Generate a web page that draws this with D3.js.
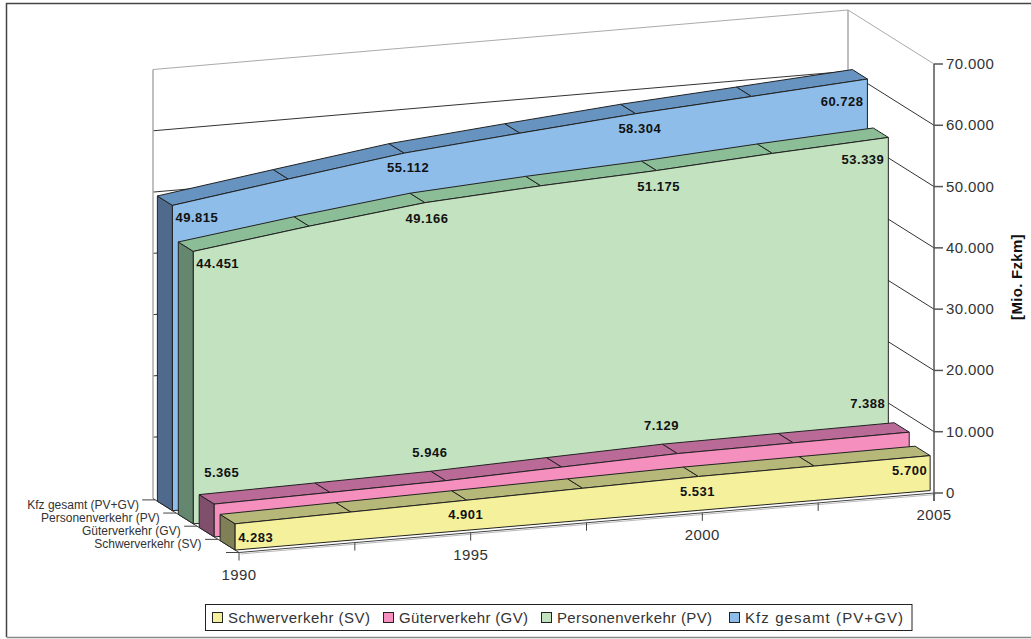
<!DOCTYPE html>
<html>
<head>
    <meta charset="utf-8">
    <script src="https://d3js.org/d3.v7.min.js"></script>
    <style>
        body { margin: 0; background: white; }
        text { font-family: "Liberation Sans", Arial, sans-serif; }
        .value-label { font-size: 13px; font-weight: bold; fill: #111; letter-spacing: .5px; }
        .axis-label { font-size: 15px; fill: #333; letter-spacing: .4px; }
        .cat-label { font-size: 12px; fill: #333; }
        .legend-label { font-size: 15px; fill: #333; }
    </style>
</head>
<body>
    <script>
        const categories = ['1990', '', '1995', '', '2000', '', '2005'];
        const series = ['Schwerverkehr (SV)', 'Güterverkehr (GV)', 'Personenverkehr (PV)', 'Kfz gesamt (PV+GV)'];
        const schwerverkehr = [4283, 4590, 4901, 5230, 5531, 5615, 5700];
        const gueterverkehr = [5365, 5650, 5946, 6550, 7129, 7260, 7388];
        const personenverkehr = [44451, 46950, 49166, 50300, 51175, 52350, 53339];
        const kfzGesamt = [49815, 52500, 55112, 56750, 58304, 59500, 60728];
        const valueTicks = [0, 10000, 20000, 30000, 40000, 50000, 60000, 70000];
        const frontColors = ['#f5f09b', '#f48fbe', '#c3e2bf', '#8dbde8'];
        const topColors = ['#b5b878', '#b96a96', '#8bbd96', '#6693c0'];
        const sideColors = ['#7f8055', '#7f4f6c', '#658770', '#4f6a8c'];
        const seriesValues = [schwerverkehr, gueterverkehr, personenverkehr, kfzGesamt];

        const width = 1031, height = 639;
        const svg = d3.select('body').append('svg').attr('width', width).attr('height', height)
            .style('display', 'block');

        // oblique projection: x along the years, y up, depth goes back and left
        const xScale = d3.scalePoint().domain(d3.range(categories.length)).range([0, 695]);
        const yScale = d3.scaleLinear().domain([0, 70000]).range([0, 429]);
        const depthScale = d3.scaleBand().domain(series).range([0.045, 0.949]).paddingInner(0.28);
        const floorRise = 59.5 / 695;
        const project = (i, v, d) => [
            239 + xScale(i) - 86 * d,
            552.5 - xScale(i) * floorRise - yScale(v) - 54 * d
        ];
        const fmt = d3.formatLocale({ decimal: ',', thousands: '.', grouping: [3], currency: ['', ''] }).format(',');
        const line = d3.line();
        const last = categories.length - 1;

        // outer frame, the right side is cut off in the original
        svg.append('path').attr('d', 'M1031,3.5H6.5V637').attr('fill', 'none').attr('stroke', '#444').attr('stroke-width', 1.5);
        svg.append('path').attr('d', 'M6.5,637.5H1031').attr('fill', 'none').attr('stroke', '#888').attr('stroke-width', 1.5);

        // walls and grid lines
        const grid = svg.append('g').attr('fill', 'none');
        valueTicks.filter(v => v > 0).forEach(v => {
            grid.append('path')
                .attr('d', line([project(0, v, 1), project(last, v, 1), project(last, v, 0)]))
                .attr('stroke', v === 70000 ? '#aaa' : '#333');
        });
        grid.append('path').attr('d', line([project(0, 0, 1), project(0, 70000, 1)])).attr('stroke', '#aaa').attr('stroke-width', 1.5);
        grid.append('path').attr('d', line([project(last, 0, 1), project(last, 70000, 1)])).attr('stroke', '#aaa').attr('stroke-width', 1.5);

        // floor edges
        grid.append('path').attr('d', line([project(0, 0, 1), project(0, 0, 0), project(last, 0, 0)]))
            .attr('stroke', '#444');
        grid.append('path').attr('d', line([project(0, 0, 0).map(c => c + 1.5), project(last, 0, 0).map(c => c + 1.5)]))
            .attr('stroke', '#bbb');

        // ticks on the depth axis
        d3.range(series.length + 1).forEach(k => {
            const p = project(0, 0, k * 0.2435);
            grid.append('path').attr('d', line([p, [p[0] - 13, p[1]]])).attr('stroke', '#444');
        });

        // ticks along the years
        categories.forEach((c, i) => {
            const p = project(i, 0, 0);
            grid.append('path').attr('d', line([p, [p[0], p[1] + 8]])).attr('stroke', '#444');
        });
        svg.append('g').selectAll('text').data(categories).enter().append('text')
            .attr('class', 'axis-label')
            .attr('x', (d, i) => project(i, 0, 0)[0])
            .attr('y', (d, i) => project(i, 0, 0)[1] + 27)
            .attr('text-anchor', 'middle')
            .text(d => d);

        // the series, back to front
        const drawOrder = d3.range(series.length).reverse();
        const chart = svg.append('g').attr('stroke', '#222').attr('stroke-linejoin', 'round');
        drawOrder.forEach(s => {
            const values = seriesValues[s];
            const front = depthScale(series[s]);
            const back = front + depthScale.bandwidth();
            const g = chart.append('g');

            // left end
            g.append('path')
                .attr('d', line([project(0, 0, front), project(0, values[0], front), project(0, values[0], back), project(0, 0, back)]) + 'Z')
                .attr('fill', sideColors[s]);

            // top facets
            g.selectAll('.facet').data(d3.range(last)).enter().append('path')
                .attr('d', i => line([
                    project(i, values[i], front), project(i + 1, values[i + 1], front),
                    project(i + 1, values[i + 1], back), project(i, values[i], back)
                ]) + 'Z')
                .attr('fill', topColors[s]);

            // front face
            const area = d3.area()
                .x(i => project(i, 0, front)[0])
                .y0(i => project(i, 0, front)[1])
                .y1(i => project(i, values[i], front)[1]);
            g.append('path').attr('d', area(d3.range(values.length))).attr('fill', frontColors[s]);
        });

        // value labels only at the labelled years
        const labelled = [0, 2, 4, 6];
        // label offsets from the top front corner: start, middle, end of each series
        const labelDy = [[18, 19, 19], [-27, -24, -24], [17, 20, 27], [17, 19, 27]];
        const labelDx = [[3, -1, -3], [-10, -16, -24], [3, 2, -4], [3, 4, -4]];
        const labels = svg.append('g');
        series.forEach((name, s) => {
            const front = depthScale(name);
            labelled.forEach(i => {
                const p = project(i, seriesValues[s][i], front);
                const pos = i === 0 ? 0 : i === last ? 2 : 1;
                labels.append('text')
                    .attr('class', 'value-label')
                    .attr('x', p[0] + labelDx[s][pos])
                    .attr('y', p[1] + labelDy[s][pos])
                    .attr('text-anchor', ['start', 'middle', 'end'][pos])
                    .text(fmt(seriesValues[s][i]));
            });
        });

        // value axis on the right
        const axisX = project(last, 0, 0)[0];
        const axis = svg.append('g');
        axis.append('path').attr('d', line([project(last, 70000, 0), [axisX, project(last, 0, 0)[1] + 8]]))
            .attr('stroke', '#555').attr('stroke-width', 1.5);
        valueTicks.forEach(v => {
            const p = project(last, v, 0);
            axis.append('path').attr('d', line([p, [p[0] + 9, p[1]]])).attr('stroke', '#555').attr('stroke-width', 1.5);
            axis.append('text').attr('class', 'axis-label')
                .attr('x', p[0] + 12).attr('y', p[1] + 5)
                .text(fmt(v));
        });
        svg.append('text')
            .attr('transform', 'translate(1022,277) rotate(-90)')
            .attr('text-anchor', 'middle')
            .attr('font-size', 15).attr('font-weight', 'bold').attr('fill', '#111').attr('letter-spacing', 0.3)
            .text('[Mio. Fzkm]');

        // depth labels
        svg.append('g').selectAll('text').data(series).enter().append('text')
            .attr('class', 'cat-label')
            .attr('x', d => project(0, 0, depthScale(d) + depthScale.bandwidth() / 2)[0] - 26)
            .attr('y', d => project(0, 0, depthScale(d) + depthScale.bandwidth() / 2)[1] + 3)
            .attr('text-anchor', 'end')
            .text(d => d);

        // legend
        const legend = svg.append('g');
        legend.append('rect').attr('x', 205.5).attr('y', 604.5).attr('width', 706.5).attr('height', 26)
            .attr('fill', 'white').attr('stroke', '#222');
        const legendX = [212, 383, 541, 729];
        const legendTextWidth = [142, 129, 155, 158];
        series.forEach((name, s) => {
            legend.append('rect').attr('x', legendX[s] + 0.5).attr('y', 612.5).attr('width', 10).attr('height', 10)
                .attr('fill', frontColors[s]).attr('stroke', '#222');
            legend.append('text').attr('class', 'legend-label')
                .attr('x', legendX[s] + 16).attr('y', 623)
                .attr('textLength', legendTextWidth[s]).attr('lengthAdjust', 'spacing')
                .text(name);
        });
    </script>
</body>
</html>
